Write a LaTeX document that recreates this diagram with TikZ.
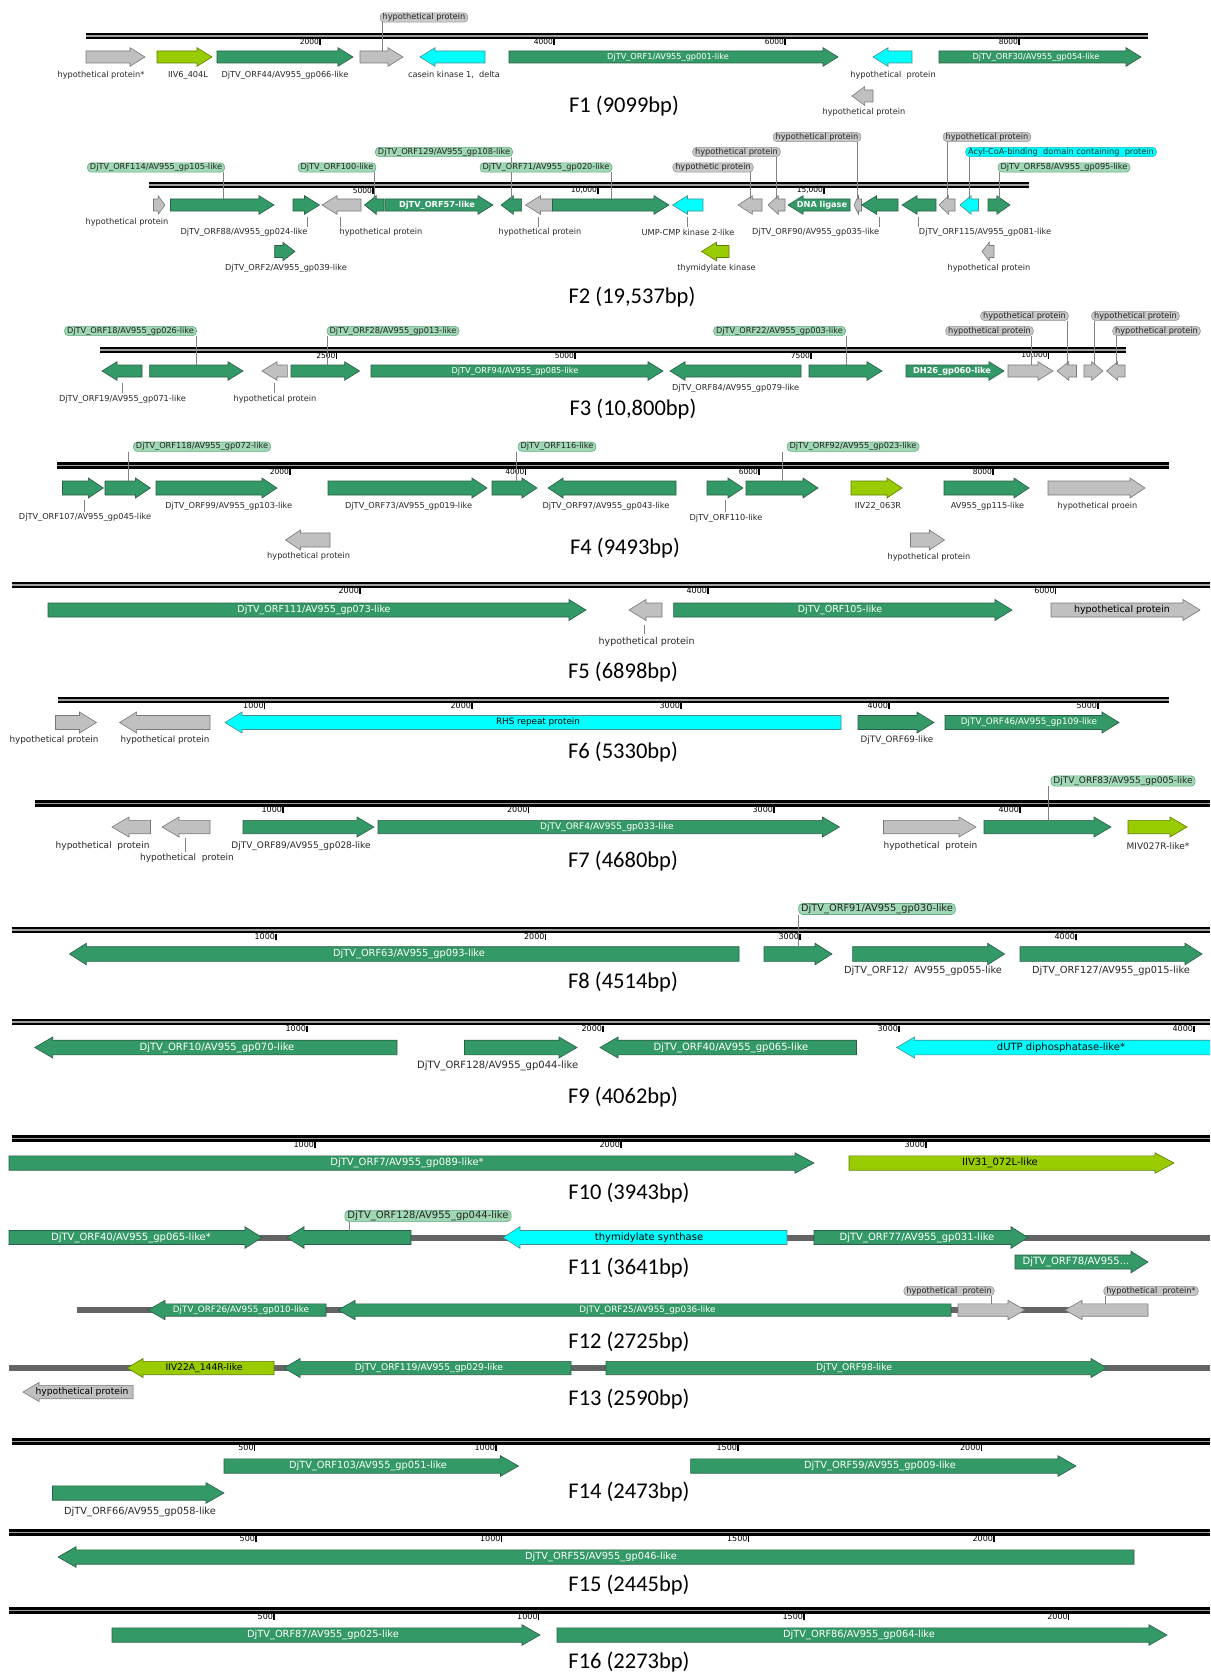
\documentclass[tikz,border=0pt]{standalone}
\usepackage{fontspec}
\setmainfont{DejaVu Sans}
\newfontfamily\lfnt{DejaVu Sans}
\newfontfamily\tfnt{Carlito}
\definecolor{ggreen}{RGB}{51,153,102}
\definecolor{ggreenD}{RGB}{40,95,70}
\definecolor{ggrey}{RGB}{192,192,192}
\definecolor{ggreyD}{RGB}{120,120,120}
\definecolor{gcyan}{RGB}{0,255,255}
\definecolor{gcyanD}{RGB}{70,140,140}
\definecolor{glime}{RGB}{153,204,0}
\definecolor{glimeD}{RGB}{95,125,0}
\definecolor{cgreen}{RGB}{160,215,180}
\definecolor{cgreenD}{RGB}{100,170,130}
\definecolor{cgrey}{RGB}{200,200,200}
\definecolor{cgreyD}{RGB}{150,150,150}
\definecolor{ccyan}{RGB}{0,255,255}
\definecolor{ccyanD}{RGB}{0,190,190}
\definecolor{leadc}{RGB}{130,130,130}
\definecolor{trkmid}{RGB}{160,160,160}
\definecolor{bbc}{RGB}{100,100,100}
\definecolor{labtxt}{RGB}{40,40,40}
\newcounter{tkc}
\newcommand\LabS{8.2}
\newcommand\TickS{7.5}
\newcommand\ArBH{6}
\newcommand\ArHH{9.3}
\newcommand\ArHL{15}
\newcommand\GeneF[5]{%
  \pgfmathsetmacro\ArHx{min(\ArHL,0.6*(#3-#2))}%
  \draw[#5] (#2,{#4-\ArBH}) -- ({#3-\ArHx},{#4-\ArBH}) -- ({#3-\ArHx},{#4-\ArHH}) -- (#3,#4) -- ({#3-\ArHx},{#4+\ArHH}) -- ({#3-\ArHx},{#4+\ArBH}) -- (#2,{#4+\ArBH}) -- cycle;
  \coordinate (#1) at ({(#2+#3)/2},#4);}
\newcommand\GeneR[5]{%
  \pgfmathsetmacro\ArHx{min(\ArHL,0.6*(#3-#2))}%
  \draw[#5] (#3,{#4-\ArBH}) -- ({#2+\ArHx},{#4-\ArBH}) -- ({#2+\ArHx},{#4-\ArHH}) -- (#2,#4) -- ({#2+\ArHx},{#4+\ArHH}) -- ({#2+\ArHx},{#4+\ArBH}) -- (#3,{#4+\ArBH}) -- cycle;
  \coordinate (#1) at ({(#2+#3)/2},#4);}
\newcommand\TrackD[4]{%
  \coordinate (#1a) at (#2,#4); \coordinate (#1b) at (#3,#4);
  \draw[line width=6.4, black] (#1a) -- (#1b);
  \draw[line width=1.4, trkmid] (#1a) -- (#1b);}
\newcommand\BackB[4]{%
  \coordinate (#1a) at (#2,#4); \coordinate (#1b) at (#3,#4);
  \draw[bbl] (#1a) -- (#1b);}
\newcommand\TickM[3]{%
  \stepcounter{tkc}%
  \draw[tickl] (#1,#2) -- (#1,{#2+6});
  \node[ticklab] (tk\arabic{tkc}) at ({#1-0.8},{#2+6}) {#3};}
\newcommand\CallO[7]{%
  \node[#2] (#1) at (#3,#4) {#5};
  \coordinate (#1e) at (#6,#7);
  \draw[leadl] (#1.south -| #1e) -- (#1e);}
\newcommand\LeadL[4]{%
  \coordinate (#1u) at (#2,#3); \coordinate (#1d) at (#2,#4);
  \draw[leadl] (#1u) -- (#1d);}
\tikzset{
 genegr/.style={fill=ggreen, draw=ggreenD, line width=0.6},
 geneyy/.style={fill=ggrey, draw=ggreyD, line width=0.6},
 genecy/.style={fill=gcyan, draw=gcyanD, line width=0.6},
 geneli/.style={fill=glime, draw=glimeD, line width=0.6},
 lblk/.style={font={\lfnt\fontsize{\LabS}{\LabS}\selectfont}, text=labtxt, inner sep=0},
 lblw/.style={lblk, text=white},
 lblwb/.style={lblk, text=white, font={\lfnt\bfseries\fontsize{\LabS}{\LabS}\selectfont}},
 lbld/.style={lblk, text=black},
 cobase/.style={rounded corners=4, line width=0.6, font={\lfnt\fontsize{\LabS}{\LabS}\selectfont}, text=black!85, inner xsep=2.5, inner ysep=0.6},
 cogr/.style={cobase, fill=cgreen, draw=cgreenD},
 coyy/.style={cobase, fill=cgrey, draw=cgreyD},
 cocy/.style={cobase, fill=ccyan, draw=ccyanD},
 leadl/.style={draw=leadc, line width=0.7},
 tickl/.style={line width=1.3, draw=black},
 ticklab/.style={font={\lfnt\fontsize{\TickS}{\TickS}\selectfont}, inner sep=0, anchor=south east, text=black},
 ttlab/.style={font={\tfnt\fontsize{22.5}{24}\selectfont}, inner sep=0, text=black},
 bbl/.style={line width=6, draw=bbc},
}
\begin{document}
\begin{tikzpicture}[x=1pt,y=-1pt]
\useasboundingbox (0,0) rectangle (1210,1672);
\clip (0,0) rectangle (1210,1672);
\fill[white] (0,0) rectangle (1210,1672);

% ---------------- F1
\TrackD{t1}{86}{1148}{36}
\TickM{320}{39}{2000}\TickM{554}{39}{4000}\TickM{785}{39}{6000}\TickM{1019}{39}{8000}
\GeneF{a1}{86}{145}{57}{geneyy} \node[lblk] (a1l) at (101,75) {hypothetical protein*};
\GeneF{a2}{157}{212}{57}{geneli} \node[lblk] (a2l) at (188,75) {IIV6\_404L};
\GeneF{a3}{217}{353}{57}{genegr} \node[lblk] (a3l) at (285,75) {DjTV\_ORF44/AV955\_gp066-like};
\GeneF{a4}{360}{403}{57}{geneyy} \CallO{a4c}{coyy}{424}{17.5}{hypothetical protein}{382}{51}
\GeneR{a5}{420}{485}{57}{genecy} \node[lblk] (a5l) at (454,75) {casein kinase 1,~~delta};
\GeneF{a6}{509}{838}{57}{genegr} \node[lblw] (a6t) at (668,57) {DjTV\_ORF1/AV955\_gp001-like};
\GeneR{a7}{873}{912}{57}{genecy} \node[lblk] (a7l) at (893,75) {hypothetical~~protein};
\GeneR{a8}{852}{873}{96}{geneyy} \node[lblk] (a8l) at (864,112) {hypothetical protein};
\GeneF{a9}{939}{1141}{57}{genegr} \node[lblw] (a9t) at (1036,57) {DjTV\_ORF30/AV955\_gp054-like};
\node[ttlab] (T1) at (624,106) {F1 (9099bp)};

% ---------------- F2
\TrackD{t2}{149}{1029}{185}
\TickM{373}{188}{5000}\TickM{598}{188}{10,000}\TickM{824}{188}{15,000}
\GeneF{b1}{153.5}{165}{205}{geneyy} \node[lblk] (b1l) at (127,222) {hypothetical protein};
\GeneF{b2}{170.5}{274}{205}{genegr} \CallO{b2c}{cogr}{156}{167.5}{DjTV\_ORF114/AV955\_gp105-like}{223}{199}
\GeneF{b3}{293}{319.5}{205}{genegr} \LeadL{b3}{307}{217}{227} \node[lblk] (b3l) at (244,232) {DjTV\_ORF88/AV955\_gp024-like};
\GeneR{b4}{322}{361}{205}{geneyy} \LeadL{b4}{340}{217}{227} \node[lblk] (b4l) at (381,232) {hypothetical protein};
\GeneR{b5}{364.5}{384}{205}{genegr} \CallO{b5c}{cogr}{337}{167.5}{DjTV\_ORF100-like}{374}{199}
\GeneF{b6}{385}{493}{205}{genegr} \node[lblwb] (b6t) at (437,205) {DjTV\_ORF57-like};
\GeneR{b7}{501}{521.6}{205}{genegr} \CallO{b7c}{cogr}{444}{152}{DjTV\_ORF129/AV955\_gp108-like}{511}{199}
\GeneR{b8}{525.5}{552.5}{205}{geneyy} \LeadL{b8}{538}{217}{227} \node[lblk] (b8l) at (540,232) {hypothetical protein};
\GeneF{b9}{552.5}{669}{205}{genegr} \CallO{b9c}{cogr}{546}{167.5}{DjTV\_ORF71/AV955\_gp020-like}{611}{199}
\GeneR{b10}{672.5}{703}{205}{genecy} \LeadL{b10}{687}{217}{227} \node[lblk] (b10l) at (688,232) {UMP-CMP kinase 2-like};
\GeneR{b11}{701.5}{729}{251.5}{geneli} \node[lblk] (b11l) at (716.5,268) {thymidylate kinase};
\GeneR{b12}{738}{762}{205}{geneyy} \CallO{b12c}{coyy}{713}{167.5}{hypothetic protein}{750}{199}
\GeneR{b13}{768}{785}{205}{geneyy} \CallO{b13c}{coyy}{736.5}{152}{hypothetical protein}{776.7}{199}
\GeneR{b14}{788}{850}{205}{genegr} \node[lblwb] (b14t) at (822,205) {DNA ligase};
\GeneR{b15}{854}{861.5}{205}{geneyy} \CallO{b15c}{coyy}{817}{137}{hypothetical protein}{857}{199}
\GeneR{b16}{861.5}{898}{205}{genegr} \LeadL{b16}{879}{217}{227} \node[lblk] (b16l) at (815.6,232) {DjTV\_ORF90/AV955\_gp035-like};
\GeneR{b17}{902}{936}{205}{genegr} \LeadL{b17}{918}{217}{227} \node[lblk] (b17l) at (985,232) {DjTV\_ORF115/AV955\_gp081-like};
\GeneR{b18}{939}{955}{205}{geneyy} \CallO{b18c}{coyy}{987}{137}{hypothetical protein}{947}{199}
\GeneR{b19}{960}{978.5}{205}{genecy} \CallO{b19c}{cocy}{1061}{152}{Acyl-CoA-binding~~domain containing~~protein}{969.6}{199}
\GeneF{b20}{988}{1010}{205}{genegr} \CallO{b20c}{cogr}{1064}{167.5}{DjTV\_ORF58/AV955\_gp095-like}{999.7}{199}
\GeneR{b21}{982}{994}{251.5}{geneyy} \node[lblk] (b21l) at (989,268) {hypothetical protein};
\GeneF{b22}{274.7}{295}{251.5}{genegr} \node[lblk] (b22l) at (286,268) {DjTV\_ORF2/AV955\_gp039-like};
\node[ttlab] (T2) at (632,297) {F2 (19,537bp)};

% ---------------- F3
\TrackD{t3}{99.5}{1126}{350}
\TickM{336.4}{353}{2500}\TickM{575}{353}{5000}\TickM{811}{353}{7500}\TickM{1048.7}{353}{10,000}
\GeneR{c1}{102}{142}{371}{genegr} \LeadL{c1}{122.7}{383}{393} \node[lblk] (c1l) at (122.5,399) {DjTV\_ORF19/AV955\_gp071-like};
\GeneF{c2}{149.7}{243}{371}{genegr} \CallO{c2c}{cogr}{130.5}{331}{DjTV\_ORF18/AV955\_gp026-like}{196.8}{365}
\GeneR{c3}{262}{287.4}{371}{geneyy} \LeadL{c3}{274}{383}{393} \node[lblk] (c3l) at (275,399) {hypothetical protein};
\GeneF{c4}{291}{359.6}{371}{genegr} \CallO{c4c}{cogr}{393}{331}{DjTV\_ORF28/AV955\_gp013-like}{327}{365}
\GeneF{c5}{371}{663}{371}{genegr} \node[lblw] (c5t) at (515,371) {DjTV\_ORF94/AV955\_gp085-like};
\GeneR{c6}{670}{801}{371}{genegr} \node[lblk] (c6l) at (735.6,388) {DjTV\_ORF84/AV955\_gp079-like};
\GeneF{c7}{809}{882}{371}{genegr} \CallO{c7c}{cogr}{779.5}{331}{DjTV\_ORF22/AV955\_gp003-like}{846}{365}
\GeneF{c8}{906}{1004}{371}{genegr} \node[lblwb] (c8t) at (952,371) {DH26\_gp060-like};
\GeneF{c9}{1008}{1053}{371}{geneyy} \CallO{c9c}{coyy}{989.5}{331}{hypothetical protein}{1031}{365}
\GeneR{c10}{1057}{1076.5}{371}{geneyy} \CallO{c10c}{coyy}{1024.5}{316}{hypothetical protein}{1067}{365}
\GeneF{c11}{1084}{1103}{371}{geneyy} \CallO{c11c}{coyy}{1135.5}{316}{hypothetical protein}{1094}{365}
\GeneR{c12}{1106.5}{1125}{371}{geneyy} \CallO{c12c}{coyy}{1156.5}{331}{hypothetical protein}{1116}{365}
\node[ttlab] (T3) at (633,409) {F3 (10,800bp)};

% ---------------- F4
\renewcommand\ArBH{7}\renewcommand\ArHH{10}
\TrackD{t4}{57}{1169}{465.5}
\TickM{290}{469}{2000}\TickM{525.5}{469}{4000}\TickM{759}{469}{6000}\TickM{993}{469}{8000}
\GeneF{d1}{62.5}{103.4}{488}{genegr} \LeadL{d1}{84}{500}{512} \node[lblk] (d1l) at (85,517.7) {DjTV\_ORF107/AV955\_gp045-like};
\GeneF{d2}{105}{150.5}{488}{genegr} \CallO{d2c}{cogr}{202}{446.7}{DjTV\_ORF118/AV955\_gp072-like}{128}{481}
\GeneF{d3}{156}{277}{488}{genegr} \node[lblk] (d3l) at (228.7,506.7) {DjTV\_ORF99/AV955\_gp103-like};
\GeneF{d4}{328}{487}{488}{genegr} \node[lblk] (d4l) at (408.6,506.7) {DjTV\_ORF73/AV955\_gp019-like};
\GeneF{d5}{492}{537}{488}{genegr} \CallO{d5c}{cogr}{557}{446.7}{DjTV\_ORF116-like}{516}{481}
\GeneR{d6}{548}{676}{488}{genegr} \node[lblk] (d6l) at (606,506.7) {DjTV\_ORF97/AV955\_gp043-like};
\GeneF{d7}{707}{743}{488}{genegr} \LeadL{d7}{725}{500}{512} \node[lblk] (d7l) at (726,518) {DjTV\_ORF110-like};
\GeneF{d8}{746}{818}{488}{genegr} \CallO{d8c}{cogr}{853}{446.7}{DjTV\_ORF92/AV955\_gp023-like}{782.5}{481}
\GeneF{d9}{851}{902}{488}{geneli} \node[lblk] (d9l) at (878,506.7) {IIV22\_063R};
\GeneF{d10}{944}{1029}{488}{genegr} \node[lblk] (d10l) at (987.5,506.7) {AV955\_gp115-like};
\GeneF{d11}{1048}{1145}{488}{geneyy} \node[lblk] (d11l) at (1097.5,506.7) {hypothetical proein};
\GeneR{d12}{285.5}{330}{540}{geneyy} \node[lblk] (d12l) at (308.6,556.7) {hypothetical protein};
\GeneF{d13}{910.5}{944.5}{540}{geneyy} \node[lblk] (d13l) at (929,557) {hypothetical protein};
\node[ttlab] (T4) at (625,548) {F4 (9493bp)};

% ---------------- F5
\renewcommand\ArBH{7}\renewcommand\ArHH{10.5}\renewcommand\ArHL{17}
\renewcommand\LabS{9.5}\renewcommand\TickS{8}
\TrackD{t5}{11.6}{1210}{585}
\TickM{360}{588}{2000}\TickM{708}{588}{4000}\TickM{1055.6}{588}{6000}
\GeneF{e1}{48}{586}{610}{genegr} \node[lblw] (e1t) at (314,610) {DjTV\_ORF111/AV955\_gp073-like};
\GeneR{e2}{629}{662}{610}{geneyy} \LeadL{e2}{644}{625}{634} \node[lblk] (e2l) at (646.6,641.7) {hypothetical protein};
\GeneF{e3}{673.6}{1012}{610}{genegr} \node[lblw] (e3t) at (840,610) {DjTV\_ORF105-like};
\GeneF{e4}{1051}{1200}{610}{geneyy} \node[lbld] (e4t) at (1122,610) {hypothetical protein};
\node[ttlab] (T5) at (623,672) {F5 (6898bp)};

% ---------------- F6
\renewcommand\LabS{8.8}
\TrackD{t6}{58}{1169}{700}
\TickM{264.6}{703}{1000}\TickM{472}{703}{2000}\TickM{681}{703}{3000}\TickM{889}{703}{4000}\TickM{1098}{703}{5000}
\GeneF{f1}{55.5}{96.5}{722.5}{geneyy} \node[lblk] (f1l) at (54,740) {hypothetical protein};
\GeneR{f2}{119.6}{210}{722.5}{geneyy} \node[lblk] (f2l) at (165,740) {hypothetical protein};
\GeneR{f3}{225}{841}{722.5}{genecy} \node[lbld] (f3t) at (538,722.5) {RHS repeat protein};
\GeneF{f4}{858}{934}{722.5}{genegr} \node[lblk] (f4l) at (897,740) {DjTV\_ORF69-like};
\GeneF{f5}{945}{1119}{722.5}{genegr} \node[lblw] (f5t) at (1029,722.5) {DjTV\_ORF46/AV955\_gp109-like};
\node[ttlab] (T6) at (623,752) {F6 (5330bp)};

% ---------------- F7
\renewcommand\LabS{9}\renewcommand\ArBH{6.7}\renewcommand\ArHH{10}
\TrackD{t7}{35}{1210}{803.5}
\TickM{283}{807}{1000}\TickM{528.5}{807}{2000}\TickM{774}{807}{3000}\TickM{1020}{807}{4000}
\GeneR{g1}{112}{150.5}{827}{geneyy} \node[lblk] (g1l) at (102.6,845.7) {hypothetical~~protein};
\GeneR{g2}{162}{210}{827}{geneyy} \LeadL{g2}{185}{838}{852} \node[lblk] (g2l) at (187,857.7) {hypothetical~~protein};
\GeneF{g3}{243}{374}{827}{genegr} \node[lblk] (g3l) at (301,845.7) {DjTV\_ORF89/AV955\_gp028-like};
\GeneF{g4}{378}{839.5}{827}{genegr} \node[lblw] (g4t) at (607,827) {DjTV\_ORF4/AV955\_gp033-like};
\GeneF{g5}{883.5}{976}{827}{geneyy} \node[lblk] (g5l) at (930.5,845.7) {hypothetical~~protein};
\GeneF{g6}{984}{1111}{827}{genegr} \CallO{g6c}{cogr}{1123}{781}{DjTV\_ORF83/AV955\_gp005-like}{1048}{820}
\GeneF{g7}{1128}{1187}{827}{geneli} \node[lblk] (g7l) at (1158,845.7) {MIV027R-like*};
\node[ttlab] (T7) at (623,861) {F7 (4680bp)};

% ---------------- F8
\renewcommand\LabS{9.8}\renewcommand\ArBH{7.3}\renewcommand\ArHH{10.8}
\TrackD{t8}{11.6}{1210}{930}
\TickM{276}{933.5}{1000}\TickM{545.5}{933.5}{2000}\TickM{800}{933.5}{3000}\TickM{1076}{933.5}{4000}
\GeneR{h1}{69.4}{739}{954}{genegr} \node[lblw] (h1t) at (409,954) {DjTV\_ORF63/AV955\_gp093-like};
\GeneF{h2}{764}{832}{954}{genegr} \CallO{h2c}{cogr}{877}{909}{DjTV\_ORF91/AV955\_gp030-like}{798.6}{946.7}
\GeneF{h3}{852.6}{1004.6}{954}{genegr} \node[lblk] (h3l) at (923,971) {DjTV\_ORF12/~~AV955\_gp055-like};
\GeneF{h4}{1020}{1202}{954}{genegr} \node[lblk] (h4l) at (1111,971) {DjTV\_ORF127/AV955\_gp015-like};
\node[ttlab] (T8) at (623,982) {F8 (4514bp)};

% ---------------- F9
\renewcommand\LabS{10}\renewcommand\ArBH{7.3}\renewcommand\ArHH{10.5}\renewcommand\ArHL{18}
\TrackD{t9}{11.6}{1210}{1022}
\TickM{307}{1025.5}{1000}\TickM{603}{1025.5}{2000}\TickM{899}{1025.5}{3000}\TickM{1194}{1025.5}{4000}
\GeneR{i1}{34.7}{397}{1047.5}{genegr} \node[lblw] (i1t) at (217,1047.5) {DjTV\_ORF10/AV955\_gp070-like};
\GeneF{i2}{464.5}{577}{1047.5}{genegr} \node[lblk] (i2l) at (497.7,1066) {DjTV\_ORF128/AV955\_gp044-like};
\GeneR{i3}{600}{856.5}{1047.5}{genegr} \node[lblw] (i3t) at (731,1047.5) {DjTV\_ORF40/AV955\_gp065-like};
\GeneR{i4}{896.6}{1225}{1047.5}{genecy} \node[lbld] (i4t) at (1061,1047.5) {dUTP diphosphatase-like*};
\node[ttlab] (T9) at (623,1097) {F9 (4062bp)};

% ---------------- F10
\renewcommand\ArBH{7.2}\renewcommand\ArHH{10.2}\renewcommand\ArHL{19}
\TrackD{t10}{11.6}{1210}{1138.5}
\TickM{315}{1142}{1000}\TickM{621}{1142}{2000}\TickM{926}{1142}{3000}
\GeneF{j1}{9}{814}{1163}{genegr} \node[lblw] (j1t) at (407,1163) {DjTV\_ORF7/AV955\_gp089-like*};
\GeneF{j2}{849}{1174}{1163}{geneli} \node[lbld] (j2t) at (1000,1163) {IIV31\_072L-like};
\node[ttlab] (T10) at (629,1193) {F10 (3943bp)};

% ---------------- F11
\renewcommand\ArBH{7}\renewcommand\ArHH{10.8}\renewcommand\ArHL{17}
\BackB{bb11}{9}{1210}{1237.5}
\GeneF{k1}{9}{262}{1237.5}{genegr} \node[lblw] (k1t) at (131,1237.5) {DjTV\_ORF40/AV955\_gp065-like*};
\GeneR{k2}{287}{411}{1237.5}{genegr} \CallO{k2c}{cogr}{428}{1216}{DjTV\_ORF128/AV955\_gp044-like}{349.5}{1230.5}
\GeneR{k3}{503}{787}{1237.5}{genecy} \node[lbld] (k3t) at (649,1237.5) {thymidylate synthase};
\GeneF{k4}{814}{1028}{1237.5}{genegr} \node[lblw] (k4t) at (917,1237.5) {DjTV\_ORF77/AV955\_gp031-like};
\GeneF{k5}{1015}{1148}{1262}{genegr} \node[lblw] (k5t) at (1076,1262) {DjTV\_ORF78/AV955...};
\node[ttlab] (T11) at (629,1268) {F11 (3641bp)};

% ---------------- F12
\renewcommand\LabS{8.8}\renewcommand\ArBH{6.2}\renewcommand\ArHH{9.7}
\BackB{bb12}{77}{1148}{1310}
\GeneR{l1}{148}{326}{1310}{genegr} \node[lblw] (l1t) at (241,1310) {DjTV\_ORF26/AV955\_gp010-like};
\GeneR{l2}{338}{951}{1310}{genegr} \node[lblw] (l2t) at (647.5,1310) {DjTV\_ORF25/AV955\_gp036-like};
\renewcommand\LabS{8.2}
\GeneF{l3}{958}{1025}{1310}{geneyy} \CallO{l3c}{coyy}{949}{1291}{hypothetical~~protein}{991.5}{1303.8}
\GeneR{l4}{1065}{1148}{1310}{geneyy} \CallO{l4c}{coyy}{1151}{1291}{hypothetical~~protein*}{1105}{1303.8}
\node[ttlab] (T12) at (629,1342) {F12 (2725bp)};

% ---------------- F13
\renewcommand\LabS{9.2}\renewcommand\ArBH{6.7}\renewcommand\ArHH{9.5}\renewcommand\ArHL{16}
\BackB{bb13}{9}{1210}{1368}
\GeneR{m1}{127}{274}{1368}{geneli} \node[lbld] (m1t) at (204,1368) {IIV22A\_144R-like};
\GeneR{m2}{284}{571}{1368}{genegr} \node[lblw] (m2t) at (429,1368) {DjTV\_ORF119/AV955\_gp029-like};
\GeneF{m3}{606}{1107}{1368}{genegr} \node[lblw] (m3t) at (854,1368) {DjTV\_ORF98-like};
\GeneR{m4}{23}{133}{1392}{geneyy} \node[lbld] (m4t) at (82,1392) {hypothetical protein};
\node[ttlab] (T13) at (629,1399) {F13 (2590bp)};

% ---------------- F14
\renewcommand\LabS{9.8}\renewcommand\ArBH{7.2}\renewcommand\ArHH{10.3}\renewcommand\ArHL{18}
\TrackD{t14}{11.6}{1210}{1441.5}
\TickM{254.6}{1445}{500}\TickM{496}{1445}{1000}\TickM{738}{1445}{1500}\TickM{981.5}{1445}{2000}
\GeneF{n1}{224}{518.5}{1466}{genegr} \node[lblw] (n1t) at (368,1466) {DjTV\_ORF103/AV955\_gp051-like};
\GeneF{n2}{690.6}{1076}{1466}{genegr} \node[lblw] (n2t) at (880,1466) {DjTV\_ORF59/AV955\_gp009-like};
\GeneF{n3}{52.5}{224}{1493}{genegr} \node[lblk] (n3l) at (140,1512) {DjTV\_ORF66/AV955\_gp058-like};
\node[ttlab] (T14) at (629,1492) {F14 (2473bp)};

% ---------------- F15
\TrackD{t15}{9}{1210}{1532.5}
\TickM{256}{1536}{500}\TickM{501.5}{1536}{1000}\TickM{748.5}{1536}{1500}\TickM{994}{1536}{2000}
\GeneR{o1}{58}{1134}{1557}{genegr} \node[lblw] (o1t) at (601,1557) {DjTV\_ORF55/AV955\_gp046-like};
\node[ttlab] (T15) at (629,1585.5) {F15 (2445bp)};

% ---------------- F16
\TrackD{t16}{9}{1210}{1610.5}
\TickM{274}{1614}{500}\TickM{538.6}{1614}{1000}\TickM{804}{1614}{1500}\TickM{1068.7}{1614}{2000}
\GeneF{p1}{112}{540}{1635}{genegr} \node[lblw] (p1t) at (323,1635) {DjTV\_ORF87/AV955\_gp025-like};
\GeneF{p2}{557}{1167}{1635}{genegr} \node[lblw] (p2t) at (859,1635) {DjTV\_ORF86/AV955\_gp064-like};
\node[ttlab] (T16) at (629,1662) {F16 (2273bp)};
\end{tikzpicture}
\end{document}
